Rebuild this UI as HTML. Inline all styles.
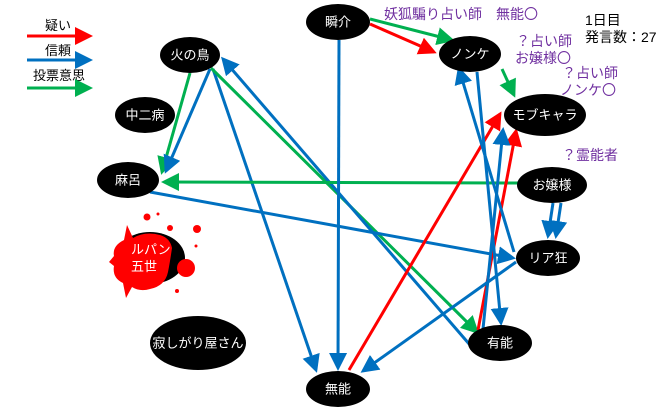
<!DOCTYPE html>
<html><head><meta charset="utf-8"><style>
html,body{margin:0;padding:0;background:#fff;}
svg{display:block;font-family:"Liberation Sans","Noto Sans CJK JP",sans-serif;}
.n{fill:#000}
.t{fill:#fff;font-size:13px;text-anchor:middle;dominant-baseline:central}
.p{fill:#7030a0;font-size:14px}
</style></head><body>
<svg width="660" height="407" viewBox="0 0 660 407" xmlns="http://www.w3.org/2000/svg">
<defs>
<marker id="r" markerWidth="6" markerHeight="6" refX="5" refY="3" orient="auto" markerUnits="strokeWidth"><path d="M0,0L6,3L0,6z" fill="#ff0000"/></marker>
<marker id="b" markerWidth="6" markerHeight="6" refX="5" refY="3" orient="auto" markerUnits="strokeWidth"><path d="M0,0L6,3L0,6z" fill="#0070c0"/></marker>
<marker id="g" markerWidth="6" markerHeight="6" refX="5" refY="3" orient="auto" markerUnits="strokeWidth"><path d="M0,0L6,3L0,6z" fill="#00b050"/></marker>
</defs>
<text x="58" y="30" font-size="13" text-anchor="middle">疑い</text>
<line x1="27" y1="36" x2="90" y2="36" stroke="#ff0000" stroke-width="3" marker-end="url(#r)"/>
<text x="58" y="55" font-size="13" text-anchor="middle">信頼</text>
<line x1="27" y1="60" x2="90" y2="60" stroke="#0070c0" stroke-width="3" marker-end="url(#b)"/>
<text x="59" y="80" font-size="13" text-anchor="middle">投票意思</text>
<line x1="27" y1="88" x2="90" y2="88" stroke="#00b050" stroke-width="3" marker-end="url(#g)"/>

<g stroke-width="3" fill="none">
<line x1="370" y1="19" x2="452" y2="40" stroke="#00b050" marker-end="url(#g)"/>
<line x1="370" y1="24" x2="434" y2="52" stroke="#ff0000" marker-end="url(#r)"/>
<line x1="502" y1="69" x2="514" y2="95" stroke="#00b050" marker-end="url(#g)"/>
<line x1="190" y1="73" x2="162" y2="172" stroke="#00b050" marker-end="url(#g)"/>
<line x1="210" y1="69" x2="166" y2="171" stroke="#0070c0" marker-end="url(#b)"/>
<line x1="213" y1="69" x2="316" y2="370" stroke="#0070c0" marker-end="url(#b)"/>
<line x1="211" y1="68" x2="477" y2="332" stroke="#00b050" marker-end="url(#g)"/>
<line x1="470" y1="345" x2="223" y2="59" stroke="#0070c0" marker-end="url(#b)"/>
<line x1="520" y1="183" x2="164" y2="182" stroke="#00b050" marker-end="url(#g)"/>
<line x1="150" y1="192" x2="513" y2="258" stroke="#0070c0" marker-end="url(#b)"/>
<line x1="339" y1="40" x2="338" y2="368" stroke="#0070c0" marker-end="url(#b)"/>
<line x1="349" y1="370" x2="500" y2="114" stroke="#ff0000" marker-end="url(#r)"/>
<line x1="478" y1="330" x2="516" y2="131" stroke="#ff0000" marker-end="url(#r)"/>
<line x1="483" y1="329" x2="503" y2="130" stroke="#0070c0" marker-end="url(#b)"/>
<line x1="477" y1="72" x2="501" y2="323" stroke="#0070c0" marker-end="url(#b)"/>
<line x1="514" y1="252" x2="459" y2="69" stroke="#0070c0" marker-end="url(#b)"/>
<line x1="516" y1="262" x2="363" y2="371" stroke="#0070c0" marker-end="url(#b)"/>
<line x1="553" y1="203" x2="548" y2="236" stroke="#0070c0" marker-end="url(#b)"/>
<line x1="561" y1="203" x2="556" y2="236" stroke="#0070c0" marker-end="url(#b)"/>
</g>

<ellipse class="n" cx="338" cy="22" rx="32" ry="18"/><text class="t" x="338" y="22">瞬介</text>
<ellipse class="n" cx="470" cy="54" rx="31" ry="18"/><text class="t" x="470" y="54">ノンケ</text>
<ellipse class="n" cx="190" cy="55" rx="30" ry="18"/><text class="t" x="190" y="55">火の鳥</text>
<ellipse class="n" cx="145" cy="115" rx="30" ry="18"/><text class="t" x="145" y="115">中二病</text>
<ellipse class="n" cx="128" cy="180" rx="31" ry="18"/><text class="t" x="128" y="180">麻呂</text>
<ellipse class="n" cx="545" cy="115" rx="41" ry="21"/><text class="t" x="545" y="115">モブキャラ</text>
<ellipse class="n" cx="552" cy="185" rx="35" ry="18"/><text class="t" x="552" y="185">お嬢様</text>
<ellipse class="n" cx="548" cy="258" rx="32" ry="18"/><text class="t" x="548" y="258">リア狂</text>
<ellipse class="n" cx="500" cy="343" rx="32" ry="18"/><text class="t" x="500" y="343">有能</text>
<ellipse class="n" cx="338" cy="389" rx="32" ry="18"/><text class="t" x="338" y="389">無能</text>
<ellipse class="n" cx="198" cy="343" rx="48" ry="27"/><text class="t" x="198" y="343">寂しがり屋さん</text>

<ellipse class="n" cx="150" cy="258" rx="35" ry="26"/>
<g fill="#ff0000">
<path d="M124,240 L127,225 L133,238 Q145,231 160,235 Q170,238 172,248 Q170,262 168,272 Q165,286 150,289 Q140,292 132,287 L126,298 L123,283 Q112,278 114,266 L109,262 L114,256 Q112,246 124,240z"/>
<circle cx="186" cy="268" r="9"/><circle cx="147" cy="217" r="3.5"/><circle cx="170" cy="228" r="3"/>
<circle cx="197" cy="229" r="4"/><circle cx="158" cy="214" r="1.5"/><circle cx="196" cy="246" r="1.5"/><circle cx="177" cy="291" r="2"/>
</g>
<text x="131" y="254" fill="#fff" font-size="13">ルパン</text>
<text x="131" y="271" fill="#fff" font-size="13">五世</text>

<text class="p" x="384" y="19">妖狐騙り占い師　無能〇</text>
<text class="p" x="516" y="46">？占い師</text>
<text class="p" x="515" y="63">お嬢様〇</text>
<text class="p" x="562" y="78">？占い師</text>
<text class="p" x="560" y="95">ノンケ〇</text>
<text class="p" x="562" y="160">？霊能者</text>
<text x="585" y="25" font-size="14">1日目</text>
<text x="585" y="42" font-size="14">発言数：27</text>
</svg>
</body></html>
